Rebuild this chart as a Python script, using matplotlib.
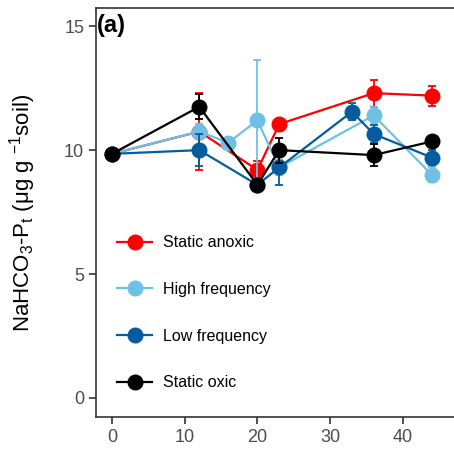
import numpy as np
import matplotlib
matplotlib.use("Agg")
import matplotlib.pyplot as plt
from matplotlib.lines import Line2D

plt.rcParams["font.family"] = ["Liberation Sans", "DejaVu Sans"]
plt.rcParams["mathtext.fontset"] = "custom"
plt.rcParams["mathtext.rm"] = "Liberation Sans"
plt.rcParams["mathtext.it"] = "Liberation Sans"

# 数据
days_anoxic = [0, 12, 20, 23, 36, 44]
val_anoxic = [9.85, 10.75, 9.2, 11.05, 12.3, 12.2]
err_anoxic = [0.2, 1.55, 0.35, 0.15, 0.55, 0.4]

days_high = [0, 12, 16, 20, 23, 36, 44]
val_high = [9.85, 10.75, 10.3, 11.2, 9.3, 11.4, 9.0]
err_high = [0.15, 0.3, 0.2, 2.45, 0.3, 0.35, 0.3]

days_low = [0, 12, 20, 23, 33, 36, 44]
val_low = [9.85, 10.0, 8.6, 9.3, 11.55, 10.65, 9.7]
err_low = [0.15, 0.65, 0.15, 0.7, 0.35, 0.35, 0.3]

days_oxic = [0, 12, 20, 23, 36, 44]
val_oxic = [9.85, 11.75, 8.6, 10.0, 9.8, 10.35]
err_oxic = [0.2, 0.5, 0.15, 0.5, 0.45, 0.15]

series = [
    ("Static anoxic", days_anoxic, val_anoxic, err_anoxic, "#FF0000"),
    ("High frequency", days_high, val_high, err_high, "#6EC1E4"),
    ("Low frequency", days_low, val_low, err_low, "#035C9E"),
    ("Static oxic", days_oxic, val_oxic, err_oxic, "#000000"),
]

fig = plt.figure(figsize=(4.54, 4.53), dpi=100)
ax = fig.add_axes([0.2115, 0.0795, 0.7885, 0.9025])

handles = []
for i, (name, t, v, e, c) in enumerate(series):
    ax.errorbar(t, v, yerr=e, color=c, marker="o", markersize=10.5, linewidth=1.6,
                elinewidth=1.3, capsize=3, capthick=1.3, zorder=3 + i)
    handles.append(Line2D([], [], color=c, marker="o", markersize=10.5, linewidth=1.6,
                          label=name))

ax.set_xlim(-2.2, 47.04)
ax.set_ylim(-0.77, 15.73)
ax.set_xticks([0, 10, 20, 30, 40])
ax.set_yticks([0, 5, 10, 15])
ax.tick_params(labelsize=13, labelcolor="#4D4D4D", color="#333333", length=5, width=1.2)
for s in ["left", "bottom", "top"]:
    ax.spines[s].set_color("#333333")
    ax.spines[s].set_linewidth(1.2)
ax.spines["right"].set_visible(False)

ax.set_ylabel(r"NaHCO$_3$-P$_t$ ($\mu$g g $^{-1}$soil)", fontsize=16, labelpad=19)
ax.text(0.002, 0.985, "(a)", transform=ax.transAxes, fontsize=17, fontweight="bold",
        ha="left", va="top")

ax.legend(handles=handles, loc="center left", bbox_to_anchor=(0.0587, 0.255),
          frameon=False, fontsize=11.5, handlelength=2.2, handletextpad=0.7,
          labelspacing=1.98, borderpad=0, borderaxespad=0)

fig.savefig("out.png", dpi=100)
